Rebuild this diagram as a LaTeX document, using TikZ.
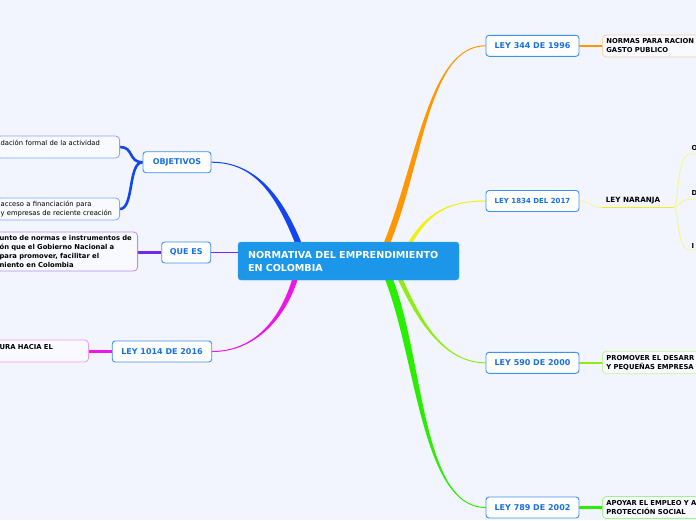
\documentclass[tikz,border=0pt]{standalone}
\usepackage{fontspec}
\newfontfamily\dv{DejaVu Sans}
\usetikzlibrary{calc}
\definecolor{bgc}{RGB}{242,245,253}
\definecolor{rootc}{RGB}{27,150,232}
\definecolor{brdraw}{RGB}{64,145,235}
\definecolor{brtext}{RGB}{25,112,222}
\definecolor{leaffill}{RGB}{248,250,255}
\definecolor{cOr}{RGB}{255,152,0}
\definecolor{cYel}{RGB}{240,240,20}
\definecolor{cYelPale}{RGB}{245,245,140}
\definecolor{cChart}{RGB}{140,238,20}
\definecolor{cGreen}{RGB}{40,238,0}
\definecolor{cBlue}{RGB}{20,70,240}
\definecolor{cPur}{RGB}{110,40,240}
\definecolor{cMag}{RGB}{240,20,230}
\definecolor{lfBlue}{RGB}{135,165,245}
\definecolor{lfPur}{RGB}{180,140,245}
\definecolor{lfPink}{RGB}{245,150,245}
\definecolor{lfOr}{RGB}{250,210,160}
\definecolor{lfChart}{RGB}{195,245,150}
\definecolor{lfGreen}{RGB}{155,245,135}
\newcommand{\froot}{\dv\bfseries\fontsize{9.6}{13}\selectfont}
\newcommand{\fbr}{\dv\bfseries\fontsize{8}{9.6}\selectfont}
\newcommand{\fbrs}{\dv\bfseries\fontsize{7}{8.4}\selectfont}
\newcommand{\fleaf}{\dv\fontsize{6.8}{9}\selectfont}
\newcommand{\fleafb}{\dv\bfseries\fontsize{6.8}{9}\selectfont}
\newcommand{\fleafq}{\dv\bfseries\fontsize{6.8}{8.7}\selectfont}
\newcommand{\fnar}{\dv\bfseries\fontsize{7.2}{8.6}\selectfont}
\newcommand{\ribbon}[7]{%
  \fill[#1] ($(#2)+(#6)$) .. controls ($(#3)+(#6)$) and ($(#4)+(#7)$) .. ($(#5)+(#7)$)
     -- ($(#5)-(#7)$) .. controls ($(#4)-(#7)$) and ($(#3)-(#6)$) .. ($(#2)-(#6)$) -- cycle;}
\pgfdeclarelayer{bg}
\pgfsetlayers{bg,main}
\tikzset{
  rootbox/.style={fill=rootc, draw=rootc!85!white, rounded corners=3pt, text=white,
    font=\froot, align=left, text width=201, minimum width=221, minimum height=38,
    inner xsep=10, inner ysep=0},
  branchbox/.style={fill=white, draw=brdraw, line width=0.9, rounded corners=3pt,
    text=brtext, font=\fbr, minimum height=21, inner xsep=2, inner ysep=0},
  leafbox/.style={fill=leaffill, line width=0.8, rounded corners=4pt, text=black,
    font=\fleaf, align=left, inner xsep=4, inner ysep=0},
  leafboxb/.style={leafbox, font=\fleafb},
  smalltext/.style={font=\fleafb, inner sep=0, anchor=base west, text=black}
}
\begin{document}
\begin{tikzpicture}[x=1pt,y=-1pt]
\useasboundingbox (0,0) rectangle (696,520);
% central node
\node[rootbox] (ctr) at (348.5,261) {NORMATIVA DEL EMPRENDIMIENTO\\EN COLOMBIA};
% branches
\node[branchbox, minimum width=68] (obj) at (177,162.2) {OBJETIVOS};
\node[branchbox, minimum width=49] (que) at (186.2,252.5) {QUE ES};
\node[branchbox, minimum width=99.5] (l1014) at (162,351.5) {LEY 1014 DE 2016};
\node[branchbox, minimum width=93] (l344) at (532.5,45.8) {LEY 344 DE 1996};
\node[branchbox, minimum width=93, font=\fbrs] (l1834) at (532.5,201) {LEY 1834 DEL 2017};
\node[branchbox, minimum width=93] (l590) at (532.5,362.8) {LEY 590 DE 2000};
\node[branchbox, minimum width=93] (l789) at (532.5,507.5) {LEY 789 DE 2002};
% left leaves
\node[leafbox, draw=lfBlue, anchor=east, text width=115, minimum height=22] (b1) at (120,147)
  {dación formal de la actividad\\\mbox{}};
\node[leafbox, draw=lfBlue, anchor=east, text width=115, minimum height=22] (b2) at (120,209)
  {acceso a financiación para\\y empresas de reciente creación};
\node[leafboxb, font=\fleafq, draw=lfPur, anchor=east, text width=134, minimum height=39] (bq) at (138,251.5)
  {unto de normas e instrumentos de\\ón que el Gobierno Nacional a\\para promover, facilitar el\\niento en Colombia};
\node[leafboxb, draw=lfPink, anchor=east, text width=85, minimum height=22] (bl) at (89,351)
  {URA HACIA EL\\\mbox{}};
% right leaves
\node[leafboxb, draw=lfOr, anchor=west, text width=140, minimum height=22] (r344) at (602,46)
  {NORMAS PARA RACION\\GASTO PUBLICO};
\node[leafboxb, draw=lfChart, anchor=west, text width=140, minimum height=22.5] (r590) at (602,362.5)
  {PROMOVER EL DESARR\\Y PEQUEÑAS EMPRESA};
\node[leafboxb, draw=lfGreen, anchor=west, text width=140, minimum height=22] (r789) at (602,507.5)
  {APOYAR EL EMPLEO Y A\\PROTECCIÓN SOCIAL};
% ley naranja
\node[font=\fnar, inner sep=0, text=black] (nar) at (633,200.5) {LEY NARANJA};
\node[smalltext] (ko) at (691.5,150) {O};
\node[smalltext] (kd) at (691.5,195.3) {D};
\node[smalltext] (ki) at (691.5,248) {I};

\begin{pgfonlayer}{bg}
\fill[bgc] (0,0) rectangle (696,520);
\coordinate (sOr) at (384,250);
\coordinate (sYe) at (406,250);
\coordinate (sCh) at (397,272);
\coordinate (sGr) at (386,272);
\coordinate (sBl) at (301,250);
\coordinate (sMg) at (297,272);
% main ribbons
\ribbon{cOr}{sOr}{420,168}{427,45.8}{l344.west}{3.3,0}{0,0.5}
\ribbon{cYel}{sYe}{425,215}{445,201}{l1834.west}{2.3,0}{0,0.5}
\ribbon{cChart}{sCh}{415,312}{440,362.8}{l590.west}{2.5,0}{0,-0.5}
\ribbon{cGreen}{sGr}{420,350}{420,507.5}{l789.west}{4,0}{0,-0.5}
\ribbon{cBlue}{sBl}{280,195}{255,162.2}{obj.east}{3.3,0}{0,-0.5}
\ribbon{cMag}{sMg}{285,318}{255,351.5}{l1014.east}{2.8,0}{0,0.5}
\draw[cPur, line width=1.3] (que.east) -- (que.east -| ctr.west);
% sub-branches
\draw[cBlue, line width=2.6] (obj.west) .. controls (128,162.2) and (134,147) .. (b1.east);
\draw[cBlue, line width=2.6] (obj.west) .. controls (128,162.2) and (134,209) .. (b2.east);
\draw[cPur, line width=2.5] (que.west) -- (que.west -| bq.east);
\draw[cMag, line width=2.5] (l1014.west) -- (l1014.west -| bl.east);
\draw[cOr, line width=2.5] (l344.east) -- (l344.east -| r344.west);
\draw[cChart, line width=2.5] (l590.east) -- (l590.east -| r590.west);
\draw[cGreen, line width=2.5] (l789.east) -- (l789.east -| r789.west);
% ley naranja lines
\coordinate (njl) at (602,207.5);
\coordinate (njr) at (674,207.5);
\coordinate (oend) at (700,154);
\coordinate (dend) at (700,199.3);
\coordinate (iend) at (700,250);
\draw[cYelPale, line width=0.8] (l1834.east) .. controls (592,201) and (590,207.5) .. (njl);
\draw[cYel, line width=1.8] (njl) -- (njr);
\draw[cYelPale, line width=0.8] (njr) .. controls (679,207.5) and (676,154) .. (690,154) -- (oend);
\draw[cYelPale, line width=0.8] (njr) .. controls (680,207.5) and (679,199.3) .. (690,199.3) -- (dend);
\draw[cYelPale, line width=0.8] (njr) .. controls (679,207.5) and (676,250) .. (690,250) -- (iend);
\end{pgfonlayer}
\end{tikzpicture}
\end{document}
